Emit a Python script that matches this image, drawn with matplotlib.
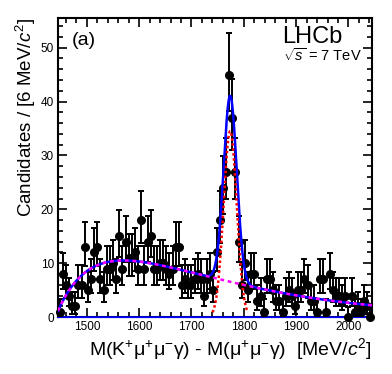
import numpy as np
import matplotlib
matplotlib.use("Agg")
import matplotlib.pyplot as plt
from matplotlib.ticker import MultipleLocator

plt.rcParams['font.family'] = ['Liberation Sans', 'DejaVu Sans']
plt.rcParams['mathtext.fontset'] = 'custom'
plt.rcParams['mathtext.rm'] = 'Liberation Sans'
plt.rcParams['mathtext.it'] = 'Liberation Sans:italic'
plt.rcParams['mathtext.bf'] = 'Liberation Sans:bold'

# ---- data: 6 MeV bins from 1445 to 2045 ----
bin_lo = 1445.0
bin_width = 6.0
counts = [
    1, 8, 6, 4, 2, 2, 6, 6.5, 13, 5,
    7, 12, 13, 7, 5, 9, 9, 10, 7, 15,
    9, 14, 11, 11, 12, 9, 18, 9, 14, 15,
    9, 9, 10, 10, 9, 8, 9, 13, 13, 6,
    7, 6, 6, 7, 8, 7, 4, 7, 8, 5,
    12, 18, 24, 27, 45, 37, 27, 14, 6, 10,
    5, 8, 8, 3, 4, 1, 7, 7, 5, 3,
    3, 1, 4, 5, 4, 2, 5, 5, 7, 6,
    3, 3, 1, 7, 7, 1, 8, 5, 4, 4,
    3, 4, 0, 4, 1, 2, 1, 3, 2, 0,
]
counts = np.round(np.array(counts)).astype(float)
centers = bin_lo + bin_width * (np.arange(len(counts)) + 0.5)

# ---- fit model parameters ----
sig_amp, sig_mean, sig_sigma = 34.5, 1774.0, 12.5
bkg_thr, bkg_k = 1440.0, 73.7
bkg_poly = [17.79, -4.294, 0.284]

xlim = (1445, 2045)
ylim = (0, 55.5)

x = np.linspace(xlim[0], xlim[1], 1200)
t = (x - bkg_thr) / 100.0
bkg = (1 - np.exp(-(x - bkg_thr) / bkg_k)) * (bkg_poly[0] + bkg_poly[1] * t + bkg_poly[2] * t ** 2)
sig = sig_amp * np.exp(-0.5 * ((x - sig_mean) / sig_sigma) ** 2)
total = sig + bkg

# asymmetric Poisson-like errors
err_up = np.sqrt(counts + 0.75) + 1.0
err_dn = np.where(counts > 0, np.sqrt(np.clip(counts - 0.25, 0, None)), 0.0)

fig = plt.figure(figsize=(3.92, 3.74), dpi=100)
ax = fig.add_axes([0.148, 0.152, 0.801, 0.800])

ax.plot(x, np.zeros_like(x), color='#0000ff', lw=1.3, zorder=3, clip_on=False)
ax.errorbar(centers, counts, yerr=[err_dn, err_up], fmt='o', color='black',
            ms=5.5, elinewidth=1.4, capsize=2.4, capthick=1.4, zorder=4, clip_on=False)
ax.plot(x, total, color='#0000ff', lw=1.8, zorder=5)
msk = np.abs(x - sig_mean) < 34
ax.plot(x[msk], sig[msk], color='#ff0000', lw=1.8, ls=(0, (1, 1)), zorder=6)
ax.plot(x, bkg, color='#ff00ff', lw=1.8, ls=(0, (1.5, 1.5)), zorder=6)

ax.set_xlim(*xlim)
ax.set_ylim(*ylim)
ax.xaxis.set_major_locator(MultipleLocator(100))
ax.xaxis.set_minor_locator(MultipleLocator(20))
ax.yaxis.set_major_locator(MultipleLocator(10))
ax.yaxis.set_minor_locator(MultipleLocator(2))
ax.tick_params(which='both', direction='in', top=True, right=True, width=1.2, labelsize=8.5)
ax.tick_params(which='major', length=6.5, pad=3)
ax.tick_params(which='minor', length=3.5)
for s in ax.spines.values():
    s.set_linewidth(1.5)

ax.set_xlabel(r'M(K$^{+}$μ$^{+}$μ$^{-}$γ) - M(μ$^{+}$μ$^{-}$γ)  [MeV/$c^{2}$]',
              fontsize=14, loc='right', labelpad=2)
ax.set_ylabel(r'Candidates / [6 MeV/$c^{2}$]', fontsize=13.5, loc='top', labelpad=2)

ax.text(0.045, 0.925, '(a)', transform=ax.transAxes, fontsize=14, va='center', ha='left')
ax.text(0.715, 0.935, 'LHCb', transform=ax.transAxes, fontsize=17, va='center', ha='left')
ax.text(0.715, 0.875, r'$\sqrt{s}$ = 7 TeV', transform=ax.transAxes, fontsize=10.5, va='center', ha='left')

fig.savefig('out.png', dpi=100)
